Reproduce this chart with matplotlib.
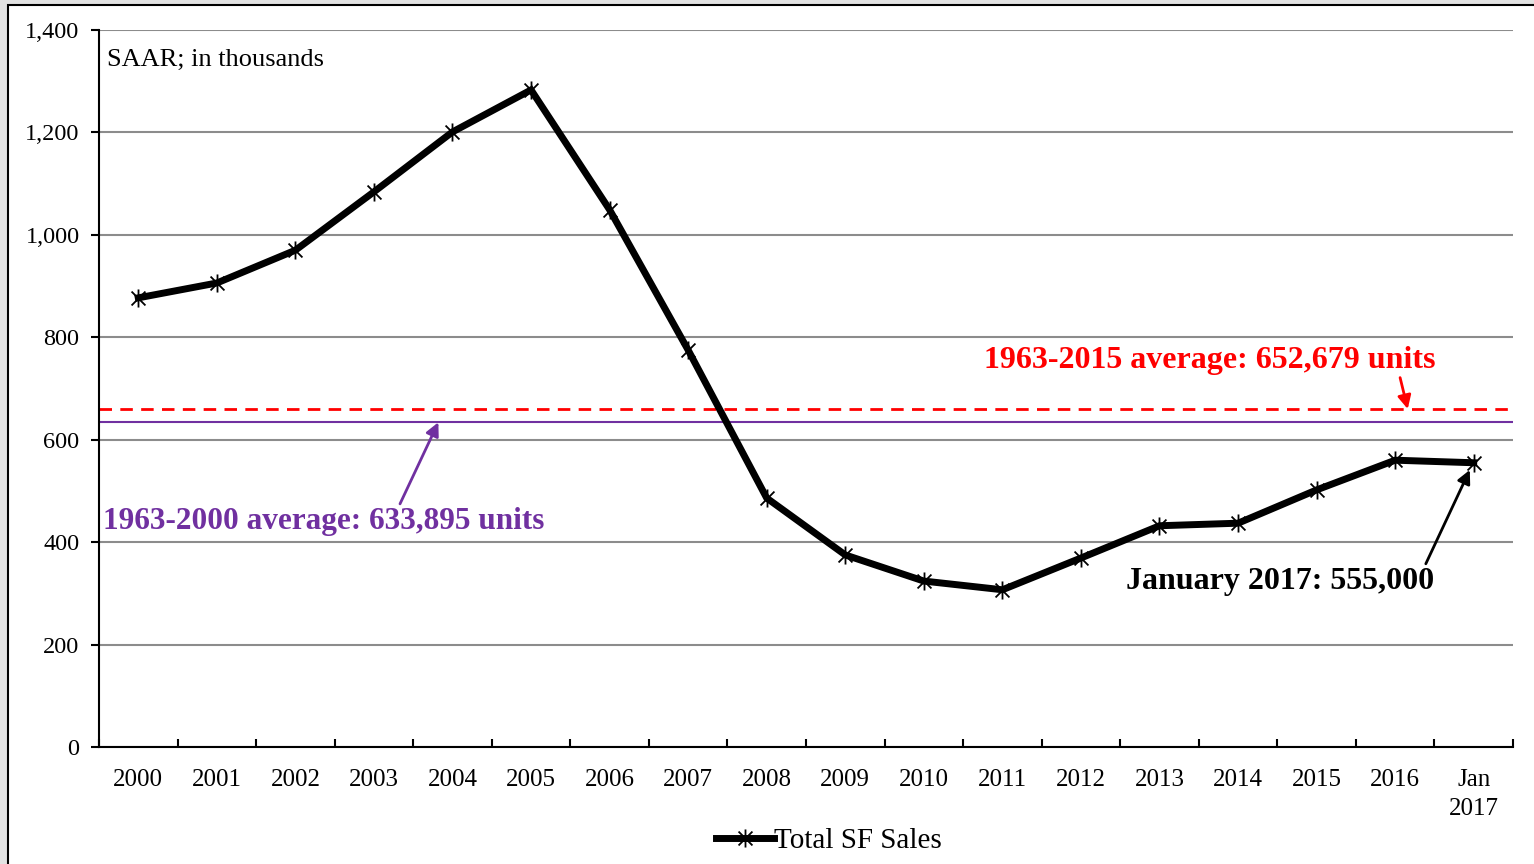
import matplotlib.pyplot as plt
from matplotlib.patches import Rectangle
from matplotlib.path import Path
import numpy as np

plt.rcParams['font.family'] = ['Liberation Serif', 'DejaVu Serif']

categories = ['2000', '2001', '2002', '2003', '2004', '2005', '2006', '2007', '2008',
              '2009', '2010', '2011', '2012', '2013', '2014', '2015', '2016', 'Jan\n2017']
sales = [877, 906, 970, 1084, 1201, 1283, 1049, 775, 486,
         375, 324, 307, 369, 432, 437, 502, 560, 555]
avg_1963_2015 = 660
avg_1963_2000 = 634

# Excel-like star marker: an x with a vertical stroke
star = Path([(-1, -1), (1, 1), (-1, 1), (1, -1), (0, -1.3), (0, 1.3)],
            [Path.MOVETO, Path.LINETO, Path.MOVETO, Path.LINETO, Path.MOVETO, Path.LINETO])

fig = plt.figure(figsize=(15.34, 8.64), dpi=100, facecolor='#e2e2e2')
# white chart frame
fig.patches.append(Rectangle((8 / 1534, -0.01), 1.0, (864 - 5) / 864 + 0.01,
                             transform=fig.transFigure, facecolor='white',
                             edgecolor='black', linewidth=1.5, zorder=-10))

ax = fig.add_axes([99 / 1534, 1 - 747 / 864, (1513 - 99) / 1534, (747 - 30) / 864])
ax.set_zorder(1)
ax.set_facecolor('white')

x = np.arange(len(categories))
ax.set_xlim(-0.5, len(categories) - 0.5)
ax.set_ylim(0, 1400)

ax.set_yticks(np.arange(0, 1401, 200))
ax.set_yticklabels([f'{v:,}' for v in range(0, 1401, 200)], fontsize=17.5)
ax.yaxis.grid(True, color='#8c8c8c', linewidth=1.5)
ax.set_axisbelow(True)

ax.set_xticks(np.arange(-0.5, len(categories)), minor=False)
ax.set_xticklabels([])
ax.set_xticks(x, minor=True)
ax.set_xticklabels(categories, minor=True, fontsize=18, linespacing=1.4)
ax.tick_params(axis='x', which='minor', length=0, pad=16)
ax.tick_params(axis='x', which='major', length=6, width=1.5, direction='in')
ax.tick_params(axis='y', length=6, width=1.5, direction='out', pad=8)

for s in ['top', 'right']:
    ax.spines[s].set_visible(False)
for s in ['left', 'bottom']:
    ax.spines[s].set_linewidth(1.5)

ax.axhline(avg_1963_2015, xmin=0, xmax=0.997, color='red', linestyle=(0, (4.5, 3)), linewidth=2)
ax.axhline(avg_1963_2000, color='#7030a0', linewidth=1.5)

ax.plot(x, sales, color='black', linewidth=5, marker=star, markersize=13,
        markeredgewidth=1.3, label='Total SF Sales', solid_joinstyle='miter', zorder=3)

ax.text(0.006, 0.973, 'SAAR; in thousands', transform=ax.transAxes, fontsize=19,
        va='top', ha='left')

ax.annotate('1963-2015 average: 652,679 units', xy=(16.16, avg_1963_2015),
            xytext=(13.64, 755), fontsize=23, fontweight='bold', color='red',
            ha='center', va='center',
            arrowprops=dict(arrowstyle='-|>', color='red', lw=2, mutation_scale=20,
                            shrinkA=0, shrinkB=0, relpos=(0.92, 0.0)))
ax.annotate('1963-2000 average: 633,895 units', xy=(3.82, avg_1963_2000),
            xytext=(2.36, 441), fontsize=22.5, fontweight='bold', color='#7030a0',
            ha='center', va='center',
            arrowprops=dict(arrowstyle='-|>', color='#7030a0', lw=2, mutation_scale=20,
                            shrinkA=0, shrinkB=0, relpos=(0.67, 1.0)))
ax.annotate('January 2017: 555,000', xy=(16.95, 541), xytext=(14.53, 324),
            fontsize=23, fontweight='bold', color='black', ha='center', va='center',
            arrowprops=dict(arrowstyle='-|>', color='black', lw=2, mutation_scale=20,
                            shrinkA=0, shrinkB=0, relpos=(0.97, 1.0)))

ax.legend(loc='upper center', bbox_to_anchor=(0.516, -0.096), frameon=False, fontsize=21,
          handlelength=2.0, handletextpad=0.0, borderaxespad=0)

fig.savefig('out.png', dpi=100, facecolor=fig.get_facecolor())
